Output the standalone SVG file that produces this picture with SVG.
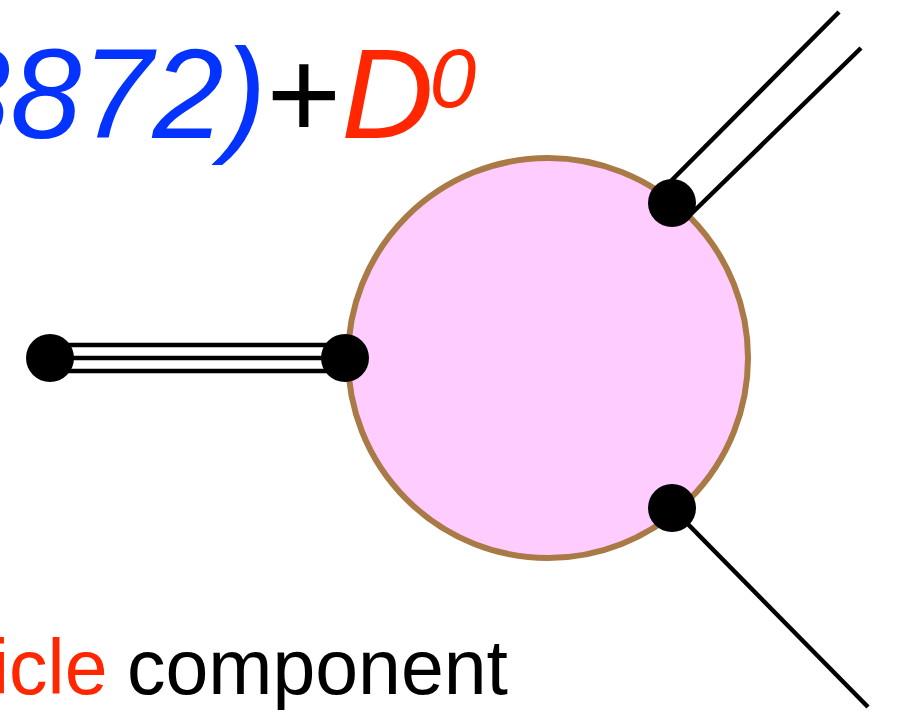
<svg xmlns="http://www.w3.org/2000/svg" width="900" height="712" viewBox="0 0 900 712">
<style>
.t{font-family:"Liberation Sans",Arial,sans-serif}
.ln{stroke:#000;stroke-width:4.5;fill:none}
.dot{fill:#000}
</style>
<rect width="900" height="712" fill="#fff"/>
<text class="t" x="-61" y="138" font-size="128" font-style="italic"><tspan fill="#0433FF">3872)</tspan><tspan fill="#000" font-style="normal">+</tspan><tspan fill="#FF2600">D</tspan><tspan fill="#FF2600" font-size="84" dx="-4" dy="-31">0</tspan></text>
<text class="t" x="-8" y="694" font-size="77"><tspan fill="#FF2600">icle</tspan><tspan fill="#000" dx="-2"> component</tspan></text>
<g id="blob"><circle cx="548" cy="358" r="200" fill="#FFCCFF" stroke="#A97A45" stroke-width="6"/></g>
<g id="connectors">
<line class="ln" x1="50" y1="345" x2="345" y2="345"/>
<line class="ln" x1="50" y1="358" x2="345" y2="358"/>
<line class="ln" x1="50" y1="371" x2="345" y2="371"/>
<line class="ln" x1="670" y1="182" x2="839" y2="12"/>
<line class="ln" x1="690" y1="215" x2="861" y2="48"/>
<line class="ln" x1="672" y1="508" x2="868" y2="707"/>
</g>
<g id="v-left"><circle class="dot" cx="50" cy="358" r="24"/></g>
<g id="v-in"><circle class="dot" cx="345" cy="358" r="24"/></g>
<g id="v-top"><circle class="dot" cx="672" cy="203" r="24"/></g>
<g id="v-bot"><circle class="dot" cx="672" cy="508" r="24"/></g>
</svg>
